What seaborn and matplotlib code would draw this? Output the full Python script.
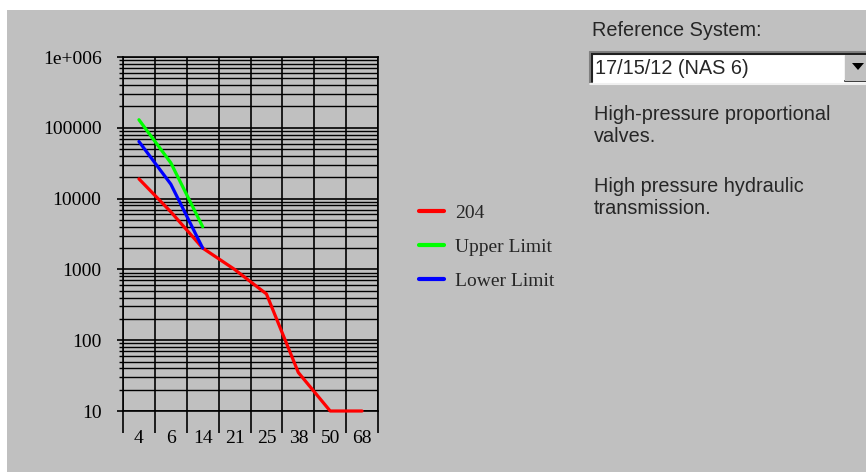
import numpy as np
import pandas as pd
import matplotlib
matplotlib.use("Agg")
import matplotlib.pyplot as plt
from matplotlib.patches import Rectangle, Polygon
from matplotlib.lines import Line2D
from matplotlib.ticker import LogLocator, NullFormatter
import seaborn as sns

# particle size channels (um) and counts per 100 ml
sizes = ["4", "6", "14", "21", "25", "38", "50", "68"]
sample_204 = [19000, 6500, 2000, 1000, 450, 35, 10, 10]
upper_limit = [130000, 32000, 4000]
lower_limit = [64000, 16000, 2000]

y_ticks = [10, 100, 1000, 10000, 100000, 1000000]
y_tick_labels = ["10", "100", "1000", "10000", "100000", "1e+006"]

series_names = ["204", "Upper Limit", "Lower Limit"]
series_colors = ["#ff0000", "#00ff00", "#0000ff"]

W, H = 866, 472
GREY = "#c0c0c0"


def px(x, y):
    # pixel position (from top left) -> figure fraction
    return x / W, 1 - y / H


rows = []
for name, vals in zip(series_names, [sample_204, upper_limit, lower_limit]):
    for i, v in enumerate(vals):
        rows.append({"pos": i, "count": v, "series": name})
df = pd.DataFrame(rows)

sns.set_style("white")
plt.rcParams['font.family'] = ['Liberation Serif', 'DejaVu Serif']

fig = plt.figure(figsize=(W / 100, H / 100), dpi=100, facecolor="white")
fig.patches.append(Rectangle(px(7, H), 1, 462 / H, transform=fig.transFigure,
                             facecolor=GREY, edgecolor="none", zorder=-10))

ax = fig.add_axes([123 / W, (H - 411) / H, 255 / W, 354 / H])
ax.patch.set_alpha(0)
ax.set_yscale("log")
ax.set_axisbelow(True)

sns.lineplot(data=df, x="pos", y="count", hue="series", hue_order=series_names,
             palette=series_colors, linewidth=2.3, errorbar=None, ax=ax)
for line in ax.get_lines():
    line.set_zorder(4)
    line.set_clip_on(False)

# x: one band per size channel, labels between the lines
ax.set_xlim(-0.5, len(sizes) - 0.5)
ax.set_xticks(np.arange(len(sizes) + 1) - 0.5)
ax.xaxis.set_major_formatter(NullFormatter())
ax.set_xticks(np.arange(len(sizes)), minor=True)
ax.set_xticklabels(sizes, minor=True)
ax.tick_params(axis="x", which="major", bottom=True, direction="out", length=16,
               width=1.2, color="black")
ax.tick_params(axis="x", which="minor", bottom=True, length=0, pad=14, labelsize=14,
               labelcolor="black")

# y: log scale with full minor grid
ax.set_ylim(10, 1e6)
ax.set_yticks(y_ticks)
ax.set_yticklabels(y_tick_labels)
ax.yaxis.set_minor_locator(LogLocator(base=10, subs=np.arange(2, 10)))
ax.yaxis.set_minor_formatter(NullFormatter())
ax.tick_params(axis="y", which="major", left=True, direction="out", length=4.5, width=1.2,
               pad=11, labelsize=14, labelcolor="black", color="black")
ax.tick_params(axis="y", which="minor", left=True, direction="out", length=3, width=1,
               color="black")

ax.grid(True, which="major", axis="both", color="black", linewidth=1.2)
ax.grid(True, which="minor", axis="y", color="black", linewidth=1)
for s in ax.spines.values():
    s.set_visible(True)
    s.set_color("black")
    s.set_linewidth(1.2)
ax.set_xlabel("")
ax.set_ylabel("")

sns.move_legend(ax, "center left", bbox_to_anchor=(1.16, 0.463), frameon=False, title=None,
                fontsize=14, handlelength=1.3, handletextpad=0.55, labelspacing=0.85,
                borderpad=0, borderaxespad=0)
for line in ax.get_legend().get_lines():
    line.set_linewidth(3)

# right hand panel
sans = ["Liberation Sans", "DejaVu Sans"]
fs = 14.3
fig.text(*px(592, 30), "Reference System:", family=sans, fontsize=fs, va="center")

# drop-down box
fig.patches.append(Rectangle(px(590, 83), (W - 590) / W, 31 / H, transform=fig.transFigure,
                             facecolor="white", edgecolor="none", zorder=1))
fig.add_artist(Line2D([590 / W, 1], [px(0, 52)[1]] * 2, color="#808080", lw=1.5))
fig.add_artist(Line2D([591 / W, 1], [px(0, 54)[1]] * 2, color="#202020", lw=1.5))
fig.add_artist(Line2D([590 / W] * 2, [px(0, 52)[1], px(0, 84)[1]], color="#808080", lw=1.5))
fig.add_artist(Line2D([592 / W] * 2, [px(0, 54)[1], px(0, 82)[1]], color="#202020", lw=1.5))
fig.add_artist(Line2D([590 / W, 1], [px(0, 84)[1]] * 2, color="#f0f0f0", lw=1.5))
fig.text(*px(595, 68), "17/15/12 (NAS 6)", family=sans, fontsize=fs, va="center", zorder=3)
fig.patches.append(Rectangle(px(845, 81), (W - 845) / W, 26 / H, transform=fig.transFigure,
                             facecolor=GREY, edgecolor="none", zorder=2))
fig.add_artist(Line2D([845 / W] * 2, [px(0, 56)[1], px(0, 81)[1]], color="#f0f0f0", lw=1.2))
fig.add_artist(Line2D([845 / W, 1], [px(0, 81)[1]] * 2, color="#404040", lw=1.5))
fig.patches.append(Polygon([px(852, 63), px(864, 63), px(858, 70)], closed=True,
                           transform=fig.transFigure, facecolor="black", edgecolor="none", zorder=3))

fig.text(*px(594, 115), "High-pressure proportional", family=sans, fontsize=fs, va="center")
fig.text(*px(594, 136), "valves.", family=sans, fontsize=fs, va="center")
fig.text(*px(594, 187), "High pressure hydraulic", family=sans, fontsize=fs, va="center")
fig.text(*px(594, 209), "transmission.", family=sans, fontsize=fs, va="center")

fig.savefig("out.png", dpi=100, facecolor=fig.get_facecolor())
